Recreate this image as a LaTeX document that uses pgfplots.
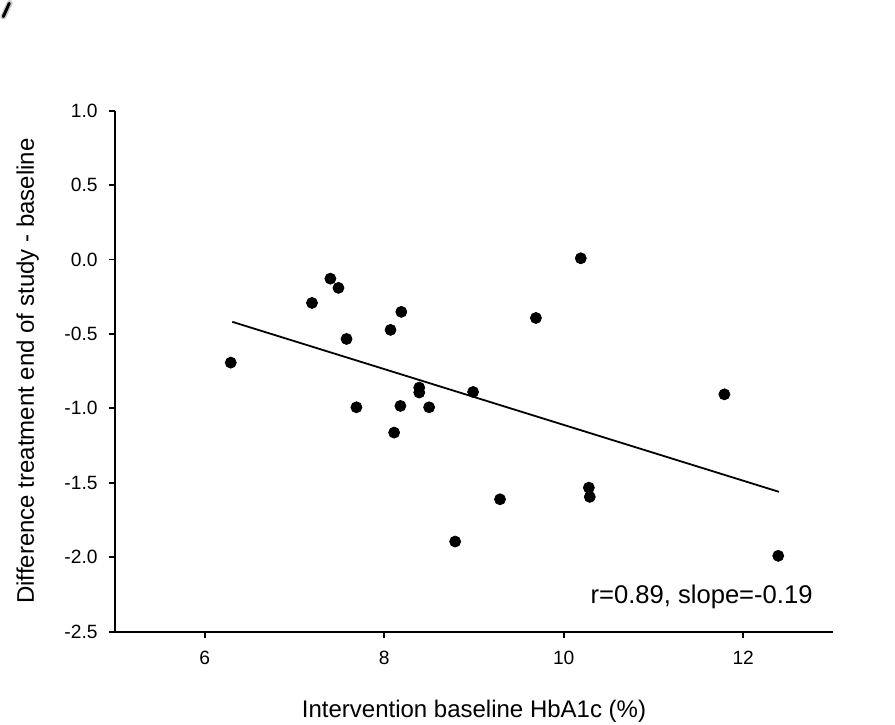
\documentclass[border=0pt]{standalone}
\usepackage{pgfplots}
\pgfplotsset{compat=1.18}
\usepackage{fontspec}
\setmainfont{Liberation Sans}
\begin{document}
\begin{tikzpicture}
\begin{axis}[
  at={(0,0)}, anchor=south west,
  scale only axis, width=359pt, height=260.5pt,
  xmin=5, xmax=13, ymin=-2.5, ymax=1.0,
  axis x line=bottom, axis y line=left,
  axis line style={-, line width=0.9pt, black},
  tick align=outside, major tick length=3.2pt,
  tick style={line width=0.9pt, black},
  xtick={6,8,10,12}, ytick={-2.5,-2,-1.5,-1,-0.5,0,0.5,1},
  yticklabel style={/pgf/number format/fixed, /pgf/number format/fixed zerofill, /pgf/number format/precision=1},
  /pgf/number format/assume math mode=true,
  /pgf/number format/use period,
  ticklabel style={font=\fontsize{9.6}{11}\selectfont},
  xticklabel style={yshift=-3pt},
  yticklabel style={xshift=-2pt},
  xlabel={Intervention baseline HbA1c (\%)},
  ylabel={Difference treatment end of study - baseline},
  label style={font=\fontsize{12}{14}\selectfont},
  xlabel style={at={(axis description cs:0.5,0)}, anchor=base, yshift=-43pt},
  ylabel style={at={(axis description cs:0,0.5)}, anchor=base, yshift=40.5pt},
  clip=false,
]
\addplot[only marks, mark=*, mark size=2.75pt, black] coordinates {
  (6.29,-0.693) (7.40,-0.129) (7.49,-0.191) (7.195,-0.292) (7.58,-0.534)
  (8.19,-0.352) (8.07,-0.473) (8.39,-0.861) (8.39,-0.894) (7.69,-0.993)
  (8.18,-0.984) (8.50,-0.993) (8.11,-1.163) (8.99,-0.890) (8.79,-1.895)
  (9.29,-1.611) (10.19,0.008) (9.69,-0.393) (10.28,-1.533) (10.29,-1.595)
  (11.79,-0.906) (12.39,-1.991)
};
\addplot[black, line width=0.9pt] coordinates {(6.307,-0.419) (12.398,-1.561)};
\node[anchor=base east, font=\fontsize{12.8}{15}\selectfont, inner sep=0pt] at (axis cs:12.777,-2.312) {r=0.89, slope=-0.19};
\end{axis}
\pgfresetboundingbox
\path (-57.5pt,-46.5pt) rectangle (390pt,314.5pt);
\draw[gray!40, line width=3pt, line cap=round] (-55.85pt,307.5pt) -- (-52.6pt,314.3pt);
\draw[black, line width=1.5pt, line cap=round] (-55.85pt,307.5pt) -- (-52.85pt,314.15pt);
\end{tikzpicture}
\end{document}
